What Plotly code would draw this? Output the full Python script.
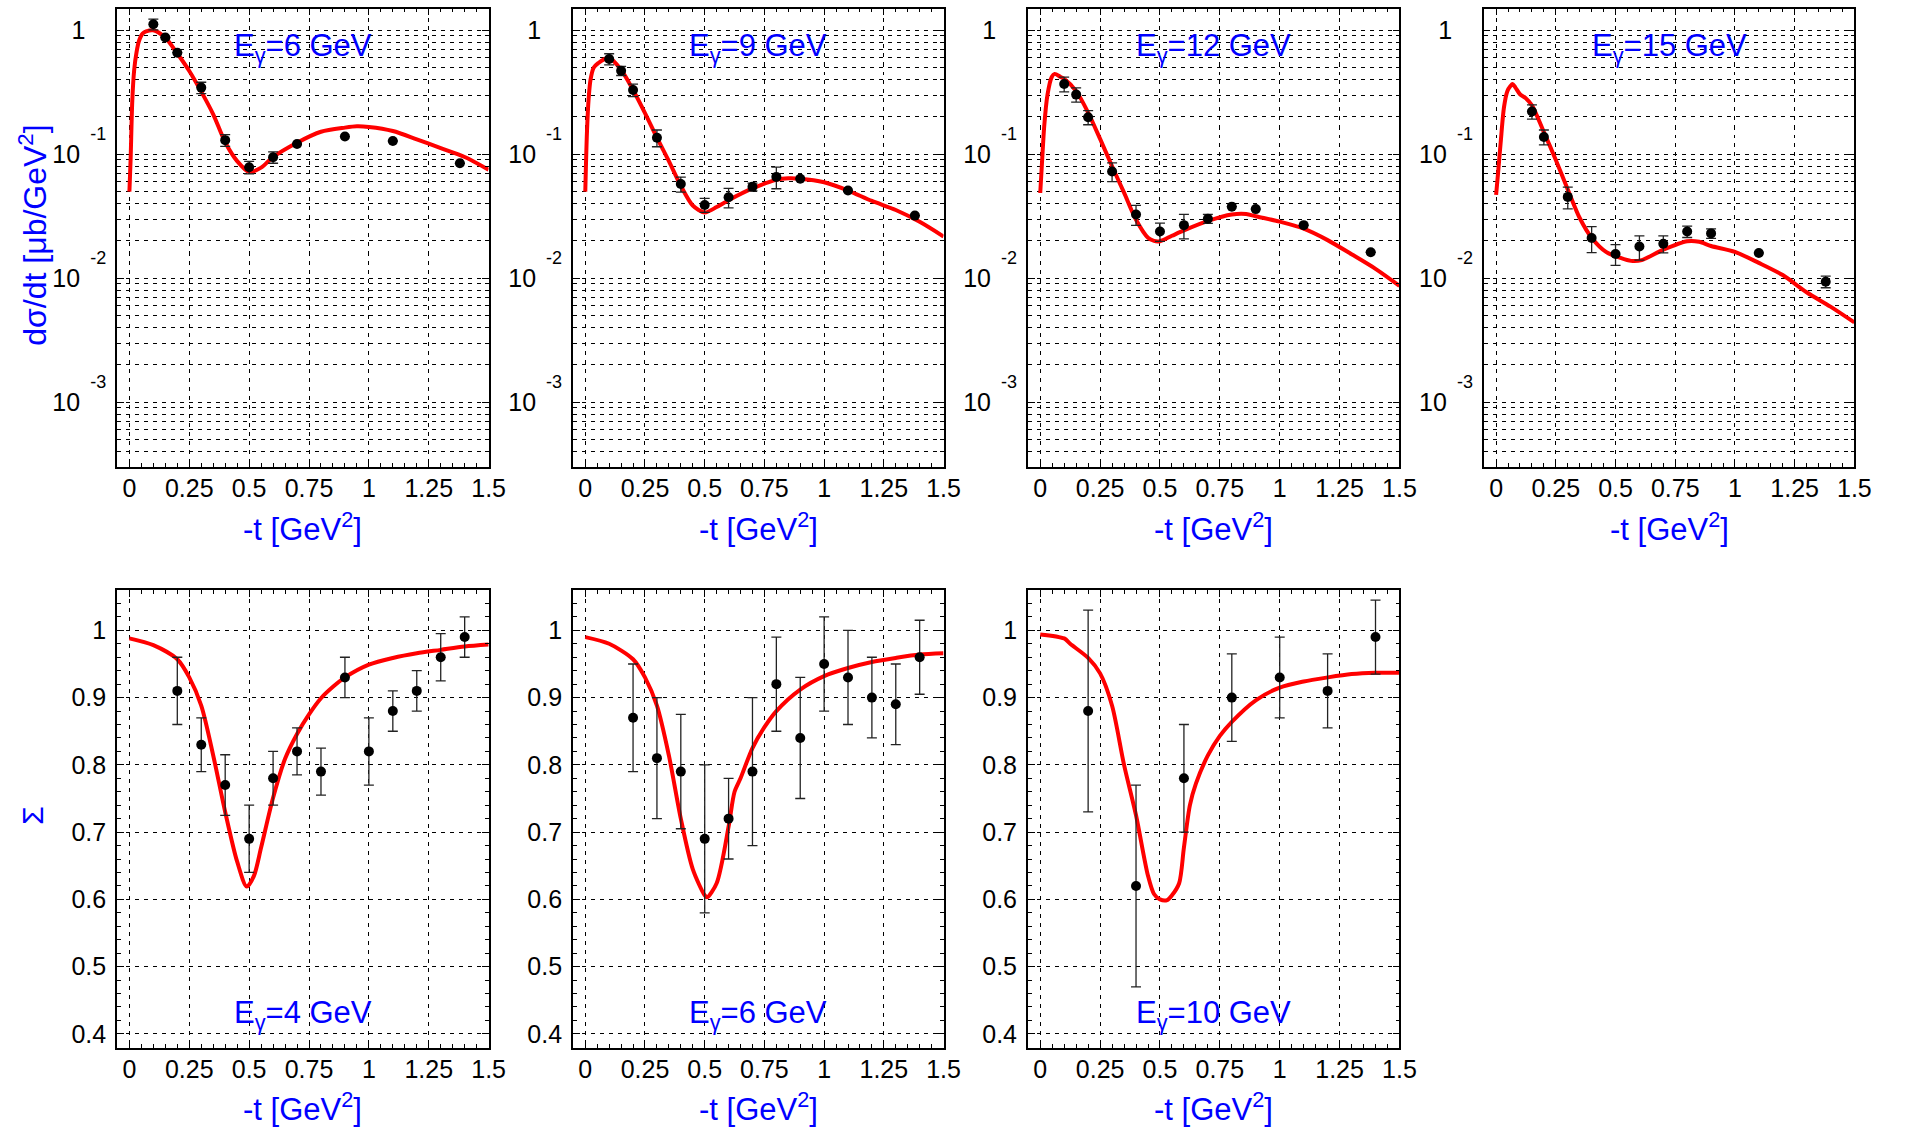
import plotly.graph_objects as go

# ---------------- differential cross sections dsigma/dt [mub/GeV^2] ----------------
t_e6 = [0.1, 0.15, 0.2, 0.3, 0.4, 0.5, 0.6, 0.7, 0.9, 1.1, 1.38]
ds_e6 = [1.12, 0.875, 0.66, 0.345, 0.130, 0.0786, 0.0946, 0.121, 0.139, 0.128, 0.0846]
ds_e6_err = [0.11, None, None, 0.036, 0.014, 0.009, 0.010, None, None, None, None]

t_e9 = [0.1, 0.15, 0.2, 0.3, 0.4, 0.5, 0.6, 0.7, 0.8, 0.9, 1.1, 1.38]
ds_e9 = [0.587, 0.472, 0.33, 0.136, 0.0575, 0.039, 0.045, 0.0546, 0.0657, 0.0635, 0.051, 0.032]
ds_e9_err = [0.06, 0.04, 0.038, 0.021, 0.008, 0.005, 0.008, 0.004, 0.013, None, None, None]

t_e12 = [0.1, 0.15, 0.2, 0.3, 0.4, 0.5, 0.6, 0.7, 0.8, 0.9, 1.1, 1.38]
ds_e12 = [0.369, 0.303, 0.199, 0.0726, 0.0327, 0.0238, 0.0268, 0.0302, 0.0378, 0.0361, 0.0268, 0.0162]
ds_e12_err = [0.05, 0.04, 0.026, 0.0125, 0.006, 0.004, 0.006, 0.0025, None, None, None, None]

t_e15 = [0.15, 0.2, 0.3, 0.4, 0.5, 0.6, 0.7, 0.8, 0.9, 1.1, 1.38]
ds_e15 = [0.221, 0.138, 0.0453, 0.0211, 0.0157, 0.018, 0.019, 0.0238, 0.023, 0.016, 0.00938]
ds_e15_err = [0.029, 0.019, 0.009, 0.005, 0.003, 0.004, 0.003, 0.0025, 0.002, None, 0.001]

# model curves for dsigma/dt
mt_e6 = [0, 0.005, 0.012, 0.02, 0.03, 0.04, 0.055, 0.07, 0.1, 0.15, 0.2, 0.25, 0.3, 0.35, 0.4,
         0.45, 0.5, 0.55, 0.6, 0.7, 0.8, 0.9, 0.95, 1.0, 1.1, 1.2, 1.3, 1.4, 1.5]
mds_e6 = [0.05, 0.09, 0.27, 0.48, 0.67, 0.82, 0.94, 0.98, 1.0, 0.87, 0.65, 0.47, 0.32, 0.21, 0.125,
          0.088, 0.072, 0.078, 0.095, 0.124, 0.152, 0.164, 0.168, 0.166, 0.154, 0.132, 0.112, 0.095, 0.075]

mt_e9 = [0, 0.007, 0.014, 0.022, 0.035, 0.055, 0.08, 0.1, 0.15, 0.2, 0.25, 0.3, 0.35, 0.4, 0.45,
         0.5, 0.55, 0.6, 0.7, 0.8, 0.85, 0.9, 1.0, 1.1, 1.2, 1.3, 1.4, 1.5]
mds_e9 = [0.05, 0.15, 0.28, 0.40, 0.50, 0.545, 0.585, 0.60, 0.48, 0.33, 0.215, 0.136, 0.088, 0.0557, 0.0386,
          0.0339, 0.0375, 0.0426, 0.053, 0.0622, 0.064, 0.0635, 0.0594, 0.051, 0.042, 0.0355, 0.0285, 0.0217]

mt_e12 = [0, 0.008, 0.017, 0.03, 0.048, 0.06, 0.085, 0.1, 0.15, 0.2, 0.25, 0.3, 0.35, 0.4, 0.45, 0.475,
          0.5, 0.55, 0.6, 0.7, 0.8, 0.86, 0.9, 1.0, 1.1, 1.2, 1.3, 1.4, 1.5]
mds_e12 = [0.0487, 0.09, 0.172, 0.30, 0.42, 0.445, 0.42, 0.405, 0.323, 0.217, 0.133, 0.080, 0.049, 0.0296,
           0.0212, 0.020, 0.0199, 0.022, 0.0243, 0.029, 0.0327, 0.033, 0.0316, 0.0286, 0.0251, 0.0203,
           0.0156, 0.0119, 0.00867]

mt_e15 = [0, 0.008, 0.019, 0.033, 0.047, 0.06, 0.069, 0.081, 0.1, 0.123, 0.15, 0.2, 0.25, 0.3, 0.35, 0.4,
          0.46, 0.52, 0.565, 0.61, 0.7, 0.8, 0.85, 0.9, 1.0, 1.1, 1.2, 1.3, 1.4, 1.5]
mds_e15 = [0.047, 0.07, 0.124, 0.24, 0.323, 0.355, 0.369, 0.345, 0.305, 0.285, 0.248, 0.151, 0.09, 0.052,
           0.0306, 0.0212, 0.0163, 0.0146, 0.0138, 0.014, 0.017, 0.0199, 0.0197, 0.0182, 0.0163, 0.0133,
           0.0106, 0.0077, 0.0059, 0.0044]

# ---------------- beam asymmetry Sigma ----------------
t_s4 = [0.2, 0.3, 0.4, 0.5, 0.6, 0.7, 0.8, 0.9, 1.0, 1.1, 1.2, 1.3, 1.4]
sig_s4 = [0.91, 0.83, 0.77, 0.69, 0.78, 0.82, 0.79, 0.93, 0.82, 0.88, 0.91, 0.96, 0.99]
sig_s4_err = [0.05, 0.04, 0.045, 0.05, 0.04, 0.035, 0.035, 0.03, 0.05, 0.03, 0.03, 0.035, 0.03]

t_s6 = [0.2, 0.3, 0.4, 0.5, 0.6, 0.7, 0.8, 0.9, 1.0, 1.1, 1.2, 1.3, 1.4]
sig_s6 = [0.87, 0.81, 0.79, 0.69, 0.72, 0.79, 0.92, 0.84, 0.95, 0.93, 0.90, 0.89, 0.96]
sig_s6_err = [0.08, 0.09, 0.085, 0.11, 0.06, 0.11, 0.07, 0.09, 0.07, 0.07, 0.06, 0.06, 0.055]

t_s10 = [0.2, 0.4, 0.6, 0.8, 1.0, 1.2, 1.4]
sig_s10 = [0.88, 0.62, 0.78, 0.90, 0.93, 0.91, 0.99]
sig_s10_err = [0.15, 0.15, 0.08, 0.065, 0.06, 0.055, 0.055]

mt_s4 = [0, 0.1, 0.2, 0.25, 0.3, 0.35, 0.4, 0.45, 0.49, 0.52, 0.55, 0.6, 0.65, 0.7, 0.75, 0.8, 0.85,
         0.9, 1.0, 1.1, 1.2, 1.3, 1.4, 1.5]
msig_s4 = [0.988, 0.978, 0.957, 0.93, 0.888, 0.814, 0.73, 0.656, 0.619, 0.635, 0.677, 0.751, 0.809, 0.846,
           0.875, 0.899, 0.916, 0.93, 0.949, 0.959, 0.966, 0.971, 0.976, 0.979]

mt_s6 = [0, 0.1, 0.2, 0.25, 0.3, 0.35, 0.4, 0.45, 0.5, 0.51, 0.55, 0.6, 0.625, 0.65, 0.7, 0.75, 0.8,
         0.9, 1.0, 1.1, 1.2, 1.3, 1.4, 1.5]
msig_s6 = [0.99, 0.98, 0.957, 0.93, 0.888, 0.814, 0.72, 0.645, 0.606, 0.603, 0.624, 0.708, 0.76, 0.78,
           0.825, 0.856, 0.88, 0.912, 0.932, 0.944, 0.953, 0.959, 0.964, 0.966]

mt_s10 = [0, 0.1, 0.125, 0.2, 0.25, 0.3, 0.35, 0.4, 0.45, 0.475, 0.5, 0.53, 0.55, 0.58, 0.6, 0.625, 0.65,
          0.7, 0.75, 0.8, 0.9, 1.0, 1.1, 1.2, 1.3, 1.4, 1.5]
msig_s10 = [0.994, 0.988, 0.98, 0.959, 0.936, 0.888, 0.8, 0.725, 0.635, 0.608, 0.6, 0.599, 0.606, 0.624,
            0.677, 0.74, 0.772, 0.814, 0.843, 0.864, 0.896, 0.915, 0.924, 0.93, 0.935, 0.937, 0.937]

# axis tick definitions
t_ticks = [0, 0.25, 0.5, 0.75, 1.0, 1.25, 1.5]
t_ticktext = ["0", "0.25", "0.5", "0.75", "1", "1.25", "1.5"]
ds_ticks = [0.001, 0.01, 0.1, 1]
EXP_STYLE = "font-size:18px;baseline-shift:23px"
ds_ticktext = ['10<span style="%s">\u00a0\u00a0-3</span>' % EXP_STYLE,
               '10<span style="%s">\u00a0\u00a0-2</span>' % EXP_STYLE,
               '10<span style="%s">\u00a0\u00a0-1</span>' % EXP_STYLE,
               "1\u00a0\u00a0\u00a0"]
ds_minor = [k * 10.0 ** e for e in range(-4, 1) for k in range(2, 10)]
sig_ticks = [0.4, 0.5, 0.6, 0.7, 0.8, 0.9, 1.0]
sig_ticktext = ["0.4", "0.5", "0.6", "0.7", "0.8", "0.9", "1"]

top_panels = [
    ("6", t_e6, ds_e6, ds_e6_err, mt_e6, mds_e6),
    ("9", t_e9, ds_e9, ds_e9_err, mt_e9, mds_e9),
    ("12", t_e12, ds_e12, ds_e12_err, mt_e12, mds_e12),
    ("15", t_e15, ds_e15, ds_e15_err, mt_e15, mds_e15),
]
bottom_panels = [
    ("4", t_s4, sig_s4, sig_s4_err, mt_s4, msig_s4),
    ("6", t_s6, sig_s6, sig_s6_err, mt_s6, msig_s6),
    ("10", t_s10, sig_s10, sig_s10_err, mt_s10, msig_s10),
]

W, H = 1913, 1128
col_px = [(118, 493), (578, 952), (1037, 1412), (1497, 1871)]
top_px = (8.5, 467)
bot_px = (590, 1048)

FONT = "Liberation Sans, Arial, Helvetica, sans-serif"
BLUE = "#0000ff"
RED = "#ff0000"
GRID_DASH = "4px,5px"


def xdom(c):
    return [col_px[c][0] / W, col_px[c][1] / W]


def ydom(row):
    a, b = row
    return [1 - b / H, 1 - a / H]


def common_axis():
    return dict(
        showline=True, linecolor="black", linewidth=1.5, mirror="allticks",
        ticks="inside", ticklen=7, tickwidth=1, tickcolor="black",
        showgrid=True, gridcolor="black", gridwidth=1, griddash=GRID_DASH,
        zeroline=False, tickfont=dict(family=FONT, size=25, color="black"),
    )


fig = go.Figure()
layout = dict(
    width=W, height=H, margin=dict(l=0, r=0, t=0, b=0),
    paper_bgcolor="white", plot_bgcolor="white", showlegend=False,
    font=dict(family=FONT),
)
annotations = []


def add_panel(idx, col, row_px, energy, t, v, err, mt, mv, is_log):
    sfx = "" if idx == 1 else str(idx)
    xa, ya = "x" + sfx, "y" + sfx
    fig.add_trace(go.Scatter(
        x=mt, y=mv, mode="lines",
        line=dict(color=RED, width=4, shape="spline", smoothing=0.8),
        xaxis=xa, yaxis=ya, hoverinfo="skip"))
    fig.add_trace(go.Scatter(
        x=t, y=v, mode="markers", marker=dict(color="black", size=10),
        error_y=dict(type="data", array=err, visible=True, color="#222222",
                     thickness=1.3, width=5),
        xaxis=xa, yaxis=ya))

    xax = common_axis()
    xax.update(domain=xdom(col), anchor=ya, range=[-0.052, 1.5],
               tickmode="array", tickvals=t_ticks, ticktext=t_ticktext,
               ticklabelstandoff=-2,
               minor=dict(ticks="inside", ticklen=4, tickcolor="black",
                          dtick=0.05, tick0=0, showgrid=False))
    yax = common_axis()
    if is_log:
        yax.update(type="log", range=[-3.523, 0.176], tickmode="array",
                   tickvals=ds_ticks, ticktext=ds_ticktext,
                   minor=dict(ticks="inside", ticklen=4, tickcolor="black",
                              tickvals=ds_minor, showgrid=True,
                              gridcolor="black", gridwidth=1, griddash=GRID_DASH))
    else:
        yax.update(range=[0.379, 1.06], tickmode="array",
                   tickvals=sig_ticks, ticktext=sig_ticktext,
                   minor=dict(ticks="inside", ticklen=4, tickcolor="black",
                              dtick=0.02, tick0=0.4, showgrid=False))
    yax.update(domain=ydom(row_px), anchor=xa, ticklabelstandoff=4)
    layout["xaxis" + sfx] = xax
    layout["yaxis" + sfx] = yax

    # panel label
    annotations.append(dict(
        text="E<sub>\u03b3</sub>=" + energy + " GeV", showarrow=False,
        xref=xa + " domain", yref=ya + " domain", x=0.5,
        y=0.914 if is_log else 0.072, xanchor="center", yanchor="middle",
        font=dict(family=FONT, size=31, color=BLUE)))
    # abscissa title
    title_y = 527 if is_log else 1107
    annotations.append(dict(
        text="-t [GeV<sup>2</sup>]", showarrow=False,
        xref=xa + " domain", yref="paper", x=0.5, y=1 - title_y / H,
        xanchor="center", yanchor="middle",
        font=dict(family=FONT, size=31, color=BLUE)))


for i, (e, t, v, err, mt, mv) in enumerate(top_panels):
    add_panel(i + 1, i, top_px, e, t, v, err, mt, mv, True)
for i, (e, t, v, err, mt, mv) in enumerate(bottom_panels):
    add_panel(i + 5, i, bot_px, e, t, v, err, mt, mv, False)

# ordinate titles
annotations.append(dict(
    text="d\u03c3/dt [\u03bcb/GeV<sup>2</sup>]", showarrow=False, textangle=-90,
    xref="paper", yref="paper", x=33 / W, y=1 - 235 / H,
    xanchor="center", yanchor="middle",
    font=dict(family=FONT, size=32, color=BLUE)))
annotations.append(dict(
    text="\u03a3", showarrow=False, textangle=-90,
    xref="paper", yref="paper", x=33 / W, y=1 - 815 / H,
    xanchor="center", yanchor="middle",
    font=dict(family=FONT, size=30, color=BLUE)))

layout["annotations"] = annotations
fig.update_layout(**layout)
fig.write_html("out.html")
